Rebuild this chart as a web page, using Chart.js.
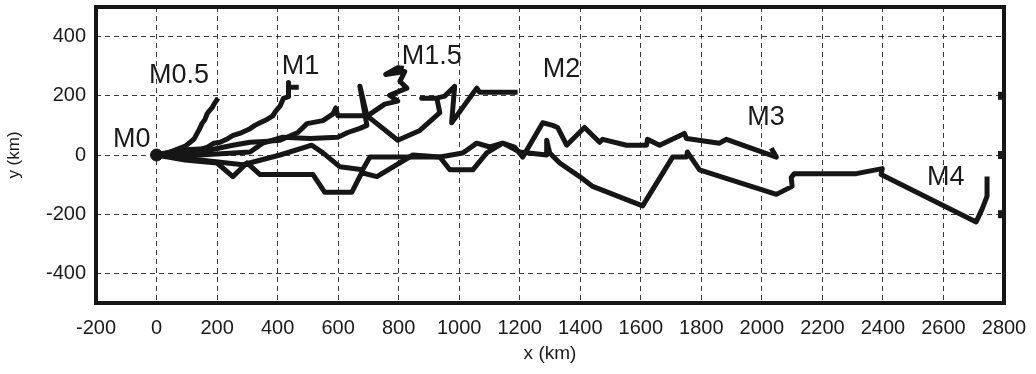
<!DOCTYPE html>
<html><head><meta charset="utf-8">
<script src="https://cdn.jsdelivr.net/npm/chart.js@4"></script>
<style>html,body{margin:0;padding:0;background:#fff;}</style>
</head><body>
<canvas id="c" width="1036" height="374"></canvas>
<script>
// ---- data (km) ----
const xTickValues = [-200,0,200,400,600,800,1000,1200,1400,1600,1800,2000,2200,2400,2600,2800];
const yTickValues = [-400,-200,0,200,400];

const m0X = [0];
const m0Y = [0];

const m05X = [0,40,78,95,111,125,134,142,150,160,167,175,183,190,203];
const m05Y = [0,8,23,30,43,55,73,88,106,120,139,150,159,172,192];

const m1X = [0,78,144,167,190,210,235,253,280,309,325,342,365,384,395,408,419,436,436,436,470];
const m1Y = [0,17,20,26,40,43,55,66,75,89,100,109,120,132,150,165,191,197,245,229,229];

const m15X = [0,144,252,309,358,408,467,497,550,583,592,599,698,754,797,770,827,804,820,757,797,817];
const m15Y = [0,10,33,43,46,50,76,106,116,139,159,133,133,172,182,202,226,249,282,272,295,292];

const m2X = [0,144,309,351,417,507,599,632,672,695,672,695,797,870,936,926,876,926,952,985,975,1058,1067,1193];
const m2Y = [0,0,10,40,60,56,60,76,90,100,232,133,50,83,143,192,192,192,199,232,109,226,212,212];

const m3X = [0,94,200,252,299,342,517,556,645,678,728,847,936,969,1045,1091,1144,1183,1210,1276,1309,1325,1355,1414,1464,1474,1553,1619,1622,1662,1744,1751,1860,1883,2048,2031];
const m3Y = [0,-17,-27,-73,-27,-66,-66,-126,-126,-60,-73,0,-7,-50,-50,7,40,27,-7,109,100,93,33,93,43,53,33,33,53,33,73,56,40,53,-7,23];

const m4X = [0,144,285,408,513,550,606,681,705,936,1012,1058,1101,1144,1200,1289,1289,1299,1332,1398,1441,1606,1705,1751,1754,1794,2048,2100,2097,2107,2312,2398,2394,2708,2728,2744,2744];
const m4Y = [0,-17,-33,0,33,7,-40,-50,-7,-7,7,40,27,40,10,0,50,7,-27,-73,-106,-172,-7,-7,10,-50,-133,-106,-76,-63,-63,-46,-66,-226,-182,-139,-73];

const labelNames = ['M0','M0.5','M1','M1.5','M2','M3','M4'];
const labelX = [-144,-25,414,810,1276,1952,2546];
const labelY = [27,242,272,308,265,100,-100];

// ---- build ----
function pts(xs, ys){ return xs.map((x,i)=>({x:x, y:ys[i]})); }
const lineColor = '#161616';
function lineSet(name, xs, ys){
  return {label:name, data:pts(xs,ys), showLine:true, borderColor:lineColor, backgroundColor:lineColor,
    borderWidth:5, pointRadius:0, borderJoinStyle:'round', borderCapStyle:'butt', tension:0};
}

const annot = {
  id:'annot',
  afterDatasetsDraw(chart){
    const ctx = chart.ctx, a = chart.chartArea, xs = chart.scales.x, ys = chart.scales.y;
    ctx.save();
    ctx.fillStyle = '#1a1a1a';
    ctx.font = '27px "Liberation Sans", Arial, sans-serif';
    ctx.textAlign = 'left';
    ctx.textBaseline = 'alphabetic';
    labelNames.forEach((n,i)=>{
      ctx.fillText(n, xs.getPixelForValue(labelX[i]), ys.getPixelForValue(labelY[i]));
    });
    // frame
    ctx.strokeStyle = '#161616';
    ctx.lineWidth = 4;
    ctx.strokeRect(a.left, a.top, a.right - a.left, a.bottom - a.top);
    // right-side tick marks
    yTickValues.forEach(v=>{
      if (Math.abs(v) <= 200) {
        const py = ys.getPixelForValue(v);
        ctx.fillRect(a.right - 6, py - 4, 6, 8);
      }
    });
    ctx.restore();
  }
};

const fontFam = '"Liberation Sans", Arial, sans-serif';
new Chart(document.getElementById('c'), {
  type:'scatter',
  data:{ datasets:[
    lineSet('M0.5', m05X, m05Y),
    lineSet('M1', m1X, m1Y),
    lineSet('M1.5', m15X, m15Y),
    lineSet('M2', m2X, m2Y),
    lineSet('M3', m3X, m3Y),
    lineSet('M4', m4X, m4Y),
    {label:'M0', data:pts(m0X,m0Y), showLine:false, pointRadius:6, backgroundColor:lineColor, borderColor:lineColor}
  ]},
  options:{
    responsive:false, devicePixelRatio:1, animation:false,
    layout:{ padding:{ top:7, right:32, left:0, bottom:0 } },
    plugins:{ legend:{display:false}, tooltip:{enabled:false} },
    scales:{
      x:{
        type:'linear', min:-200, max:2800,
        afterBuildTicks(s){ s.ticks = xTickValues.map(v=>({value:v})); },
        afterFit(s){ s.height = 71; s.paddingLeft = 0; s.paddingRight = 0; },
        grid:{ color:'#3a3a3a', lineWidth:1, drawTicks:false },
        border:{ display:false, dash:[5,4] },
        ticks:{ color:'#1a1a1a', padding:13, maxRotation:0, autoSkip:false,
          callback:(v)=>String(v),
          font:{ family:fontFam, size:20 } },
        title:{ display:true, text:'x (km)', color:'#1a1a1a', padding:{top:0,bottom:9},
          font:{ family:fontFam, size:19 } }
      },
      y:{
        type:'linear', min:-500, max:500,
        afterBuildTicks(s){ s.ticks = yTickValues.map(v=>({value:v})); },
        afterFit(s){ s.width = 96; s.paddingTop = 0; s.paddingBottom = 0; },
        grid:{ color:'#3a3a3a', lineWidth:1, drawTicks:false },
        border:{ display:false, dash:[5,4] },
        ticks:{ color:'#1a1a1a', padding:10, callback:(v)=>String(v),
          font:{ family:fontFam, size:20 } },
        title:{ display:true, text:'y (km)', color:'#1a1a1a', padding:{top:4,bottom:0},
          font:{ family:fontFam, size:17 } }
      }
    }
  },
  plugins:[annot]
});
</script>
</body></html>
